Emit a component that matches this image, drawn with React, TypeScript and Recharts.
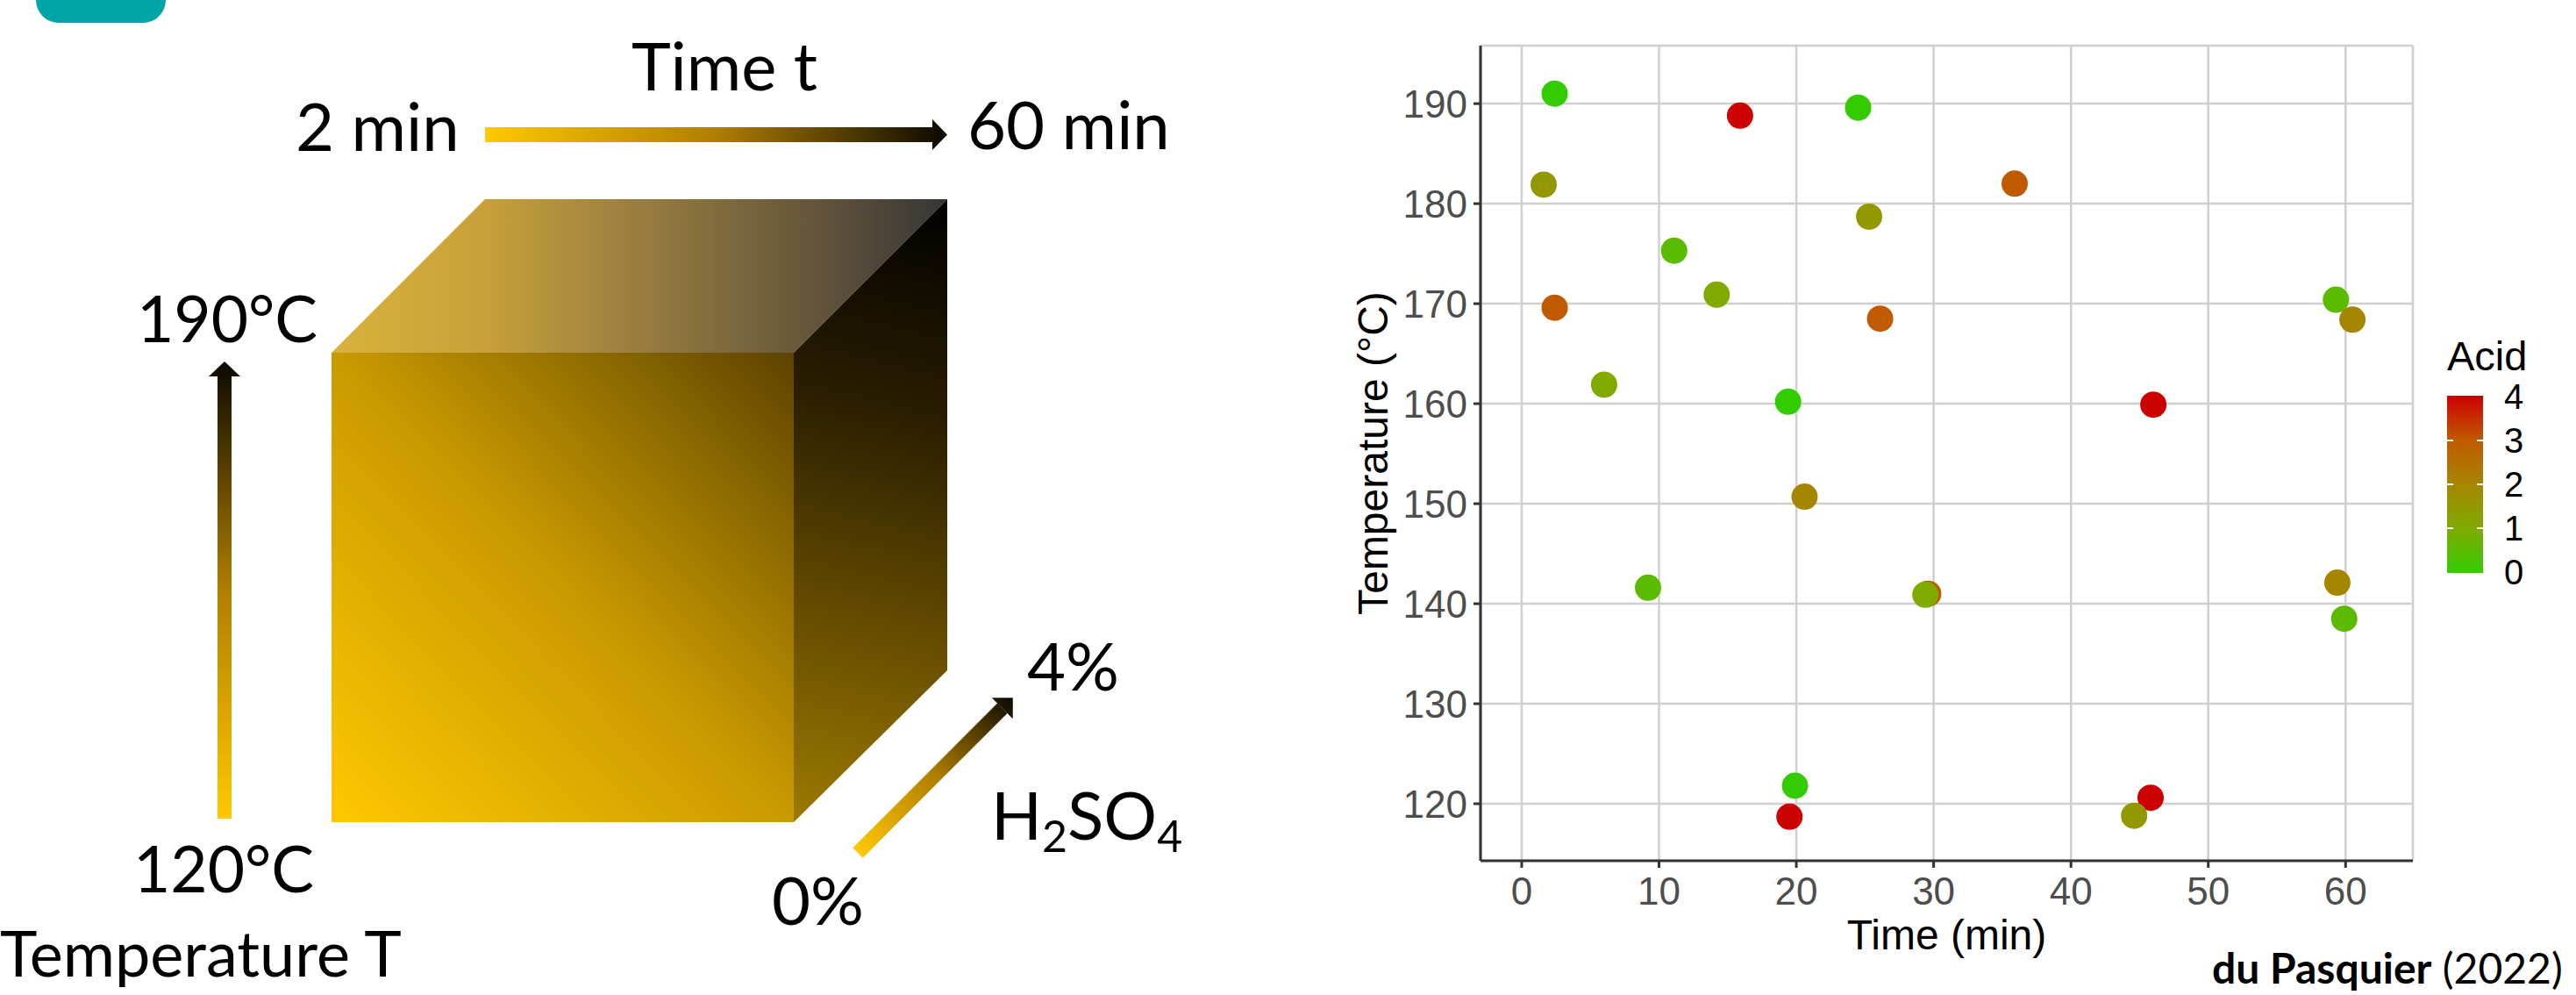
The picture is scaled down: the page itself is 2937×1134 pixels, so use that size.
import { CartesianGrid, Legend, Scatter, ScatterChart, XAxis, YAxis } from "recharts";

// pretreatment runs (du Pasquier 2022)
const timeMin = [2.4, 15.9, 24.5, 1.6, 25.3, 11.1, 14.2, 2.4, 26.1, 6.0, 19.4, 20.6, 35.9, 46.0, 59.3, 60.5, 9.2, 19.9, 19.5, 29.6, 29.4, 59.4, 59.9, 45.8, 44.6];
const tempC = [191.0, 188.8, 189.6, 181.9, 178.7, 175.3, 170.9, 169.6, 168.5, 161.9, 160.2, 150.7, 182.0, 159.9, 170.4, 168.4, 141.6, 121.8, 118.7, 141.0, 140.9, 142.1, 138.5, 120.6, 118.8];
const acidPct = [0, 4, 0, 1.5, 1.5, 0.5, 1, 3, 3, 1, 0, 2, 3, 4, 0.5, 2, 0.5, 0, 4, 3, 1, 2, 0.5, 4, 1.5];

const timeTicks = [0, 10, 20, 30, 40, 50, 60];
const tempTicks = [120, 130, 140, 150, 160, 170, 180, 190];
const acidTicks = [0, 1, 2, 3, 4];

// colour at acid = 0, 1, 2, 3, 4
const acidStops = ["#33CC00", "#80AA00", "#A68600", "#BF5A00", "#CC0000"];

function hexRgb(h: string) {
  return [1, 3, 5].map((i) => parseInt(h.slice(i, i + 2), 16));
}

function acidColor(v: number) {
  const i = Math.min(Math.floor(v), acidStops.length - 2);
  const f = v - i;
  const a = hexRgb(acidStops[i]);
  const b = hexRgb(acidStops[i + 1]);
  const c = a.map((x, k) => Math.round(x + (b[k] - x) * f));
  return `rgb(${c[0]},${c[1]},${c[2]})`;
}

const points = timeMin.map((t, i) => ({ time: t, temp: tempC[i], acid: acidPct[i] }));

const axisFont = "'Liberation Sans', Arial, sans-serif";
const slideFont = "Lato, Carlito, Calibri, sans-serif";

function AcidBar() {
  return (
    <svg width={140} height={300} style={{ display: "block", overflow: "visible" }}>
      <defs>
        <linearGradient id="acidGrad" x1="0" y1="1" x2="0" y2="0">
          {acidStops.map((c, i) => (
            <stop key={i} offset={i / (acidStops.length - 1)} stopColor={c} />
          ))}
        </linearGradient>
      </defs>
      <text x={0} y={34} fontSize={47} fontFamily={axisFont} fill="#000">Acid</text>
      <rect x={0} y={63} width={41} height={202} fill="url(#acidGrad)" />
      {acidTicks.slice(1, -1).map((v) => (
        <g key={v} stroke="#fff" strokeWidth={2}>
          <line x1={0} x2={7} y1={264 - v * 50} y2={264 - v * 50} />
          <line x1={34} x2={41} y1={264 - v * 50} y2={264 - v * 50} />
        </g>
      ))}
      {acidTicks.map((v) => (
        <text key={v} x={65} y={264 - v * 50} dy="0.36em" fontSize={40} fontFamily={axisFont} fill="#000">
          {v}
        </text>
      ))}
    </svg>
  );
}

function Diagram() {
  return (
    <svg width={2937} height={1134} style={{ position: "absolute", left: 0, top: 0 }}>
      <defs>
        <linearGradient id="hArrow" gradientUnits="userSpaceOnUse" x1={553} y1={0} x2={1080} y2={0}>
          <stop offset="0" stopColor="#FFC800" />
          <stop offset="0.5" stopColor="#B07E00" />
          <stop offset="1" stopColor="#0A0800" />
        </linearGradient>
        <linearGradient id="vArrow" gradientUnits="userSpaceOnUse" x1={0} y1={933} x2={0} y2={412}>
          <stop offset="0" stopColor="#FFC800" />
          <stop offset="0.5" stopColor="#B07E00" />
          <stop offset="1" stopColor="#0A0800" />
        </linearGradient>
        <linearGradient id="dArrow" gradientUnits="userSpaceOnUse" x1={0} y1={0} x2={250} y2={0}>
          <stop offset="0" stopColor="#FFC800" />
          <stop offset="0.5" stopColor="#B07E00" />
          <stop offset="1" stopColor="#0A0800" />
        </linearGradient>
        <linearGradient id="front" x1="0" y1="1" x2="1" y2="0">
          <stop offset="0" stopColor="#FFC800" />
          <stop offset="0.5" stopColor="#C99A00" />
          <stop offset="0.75" stopColor="#957000" />
          <stop offset="1" stopColor="#5C4200" />
        </linearGradient>
        <linearGradient id="top" gradientUnits="userSpaceOnUse" x1={378} y1={0} x2={1080} y2={0}>
          <stop offset="0" stopColor="#D8B23C" />
          <stop offset="0.25" stopColor="#C8A03A" />
          <stop offset="0.52" stopColor="#957A40" />
          <stop offset="0.75" stopColor="#6A5A3A" />
          <stop offset="1" stopColor="#363636" />
        </linearGradient>
        <linearGradient id="side" gradientUnits="userSpaceOnUse" x1={1080} y1={227} x2={905} y2={937}>
          <stop offset="0" stopColor="#000000" />
          <stop offset="0.34" stopColor="#2A1E00" />
          <stop offset="0.52" stopColor="#4A3600" />
          <stop offset="1" stopColor="#9E7A00" />
        </linearGradient>
      </defs>

      <rect x={41} y={-30} width={148} height={56} rx={26} fill="#00A5A8" />

      <g fontFamily={slideFont} fontSize={76} fill="#000">
        <text x={826} y={103} textAnchor="middle">Time t</text>
        <text x={337} y={172}>2 min</text>
        <text x={1103} y={170}>60 min</text>
        <text x={156} y={390} fontSize={73}>190°C</text>
        <text x={152} y={1017} fontSize={73}>120°C</text>
        <text x={0} y={1113} fontSize={72}>Temperature T</text>
        <text x={1171} y={787}>4%</text>
        <text x={880} y={1054}>0%</text>
        <text x={1130} y={957}>
          H<tspan fontSize={50} dy={14}>2</tspan>
          <tspan dy={-14}>SO</tspan>
          <tspan fontSize={50} dy={14}>4</tspan>
        </text>
      </g>

      <g fill="url(#hArrow)">
        <rect x={553} y={145} width={510} height={17} />
        <polygon points="1063,136 1080,153.5 1063,171" />
      </g>
      <g fill="url(#vArrow)">
        <rect x={248} y={429} width={16} height={504} />
        <polygon points="238,429 256,412 274,429" />
      </g>
      <g fill="url(#dArrow)" transform="translate(978,972) rotate(-45)">
        <rect x={0} y={-8} width={233} height={16} />
        <polygon points="233,-17 250,0 233,17" />
      </g>

      <polygon points="378,402 553,227 1080,227 905,402" fill="url(#top)" />
      <polygon points="905,402 1080,227 1080,764 905,937" fill="url(#side)" />
      <rect x={378} y={402} width={527} height={535} fill="url(#front)" />

      <text x={2522} y={1121} fontFamily={slideFont} fontSize={48} fill="#000">
        <tspan fontWeight="bold">du Pasquier</tspan> (2022)
      </text>
    </svg>
  );
}

export default function App() {
  return (
    <div style={{ position: "absolute", left: 0, top: 0, width: 2937, height: 1134, background: "#fff", overflow: "hidden" }}>
      <Diagram />
      <div style={{ position: "absolute", left: 1440, top: 0 }}>
        <ScatterChart width={1497} height={1134} margin={{ top: 52, right: 186, bottom: 53, left: 148 }}>
          <CartesianGrid stroke="#CFCFCF" strokeWidth={2.5} />
          <XAxis
            type="number"
            dataKey="time"
            domain={[-3, 64.9]}
            ticks={timeTicks}
            interval={0}
            allowDataOverflow
            height={100}
            stroke="#333333"
            strokeWidth={3}
            tickSize={8}
            tickMargin={11}
            tick={{ fontSize: 44, fill: "#4D4D4D", fontFamily: axisFont }}
            label={{
              content: (p: any) => (
                <text x={p.viewBox.x + p.viewBox.width / 2} y={p.viewBox.y + 101} textAnchor="middle" fontSize={48} fontFamily={axisFont} fill="#000">
                  Time (min)
                </text>
              ),
            }}
          />
          <YAxis
            type="number"
            dataKey="temp"
            domain={[114.3, 195.8]}
            ticks={tempTicks}
            interval={0}
            allowDataOverflow
            width={100}
            stroke="#333333"
            strokeWidth={3}
            tickSize={8}
            tickMargin={7}
            tick={{ fontSize: 44, fill: "#4D4D4D", fontFamily: axisFont }}
            label={{
              content: (p: any) => (
                <text
                  transform={`translate(${p.viewBox.x + p.viewBox.width - 106},${p.viewBox.y + p.viewBox.height / 2}) rotate(-90)`}
                  textAnchor="middle"
                  fontSize={48}
                  fontFamily={axisFont}
                  fill="#000"
                >
                  Temperature (°C)
                </text>
              ),
            }}
          />
          <Legend
            layout="vertical"
            align="center"
            verticalAlign="middle"
            content={() => <AcidBar />}
            wrapperStyle={{ left: 1350, top: 388, width: 140, height: 300 }}
          />
          <Scatter
            data={points}
            isAnimationActive={false}
            shape={(p: any) => <circle cx={p.cx} cy={p.cy} r={15} fill={acidColor(p.payload.acid)} />}
          />
        </ScatterChart>
      </div>
    </div>
  );
}
